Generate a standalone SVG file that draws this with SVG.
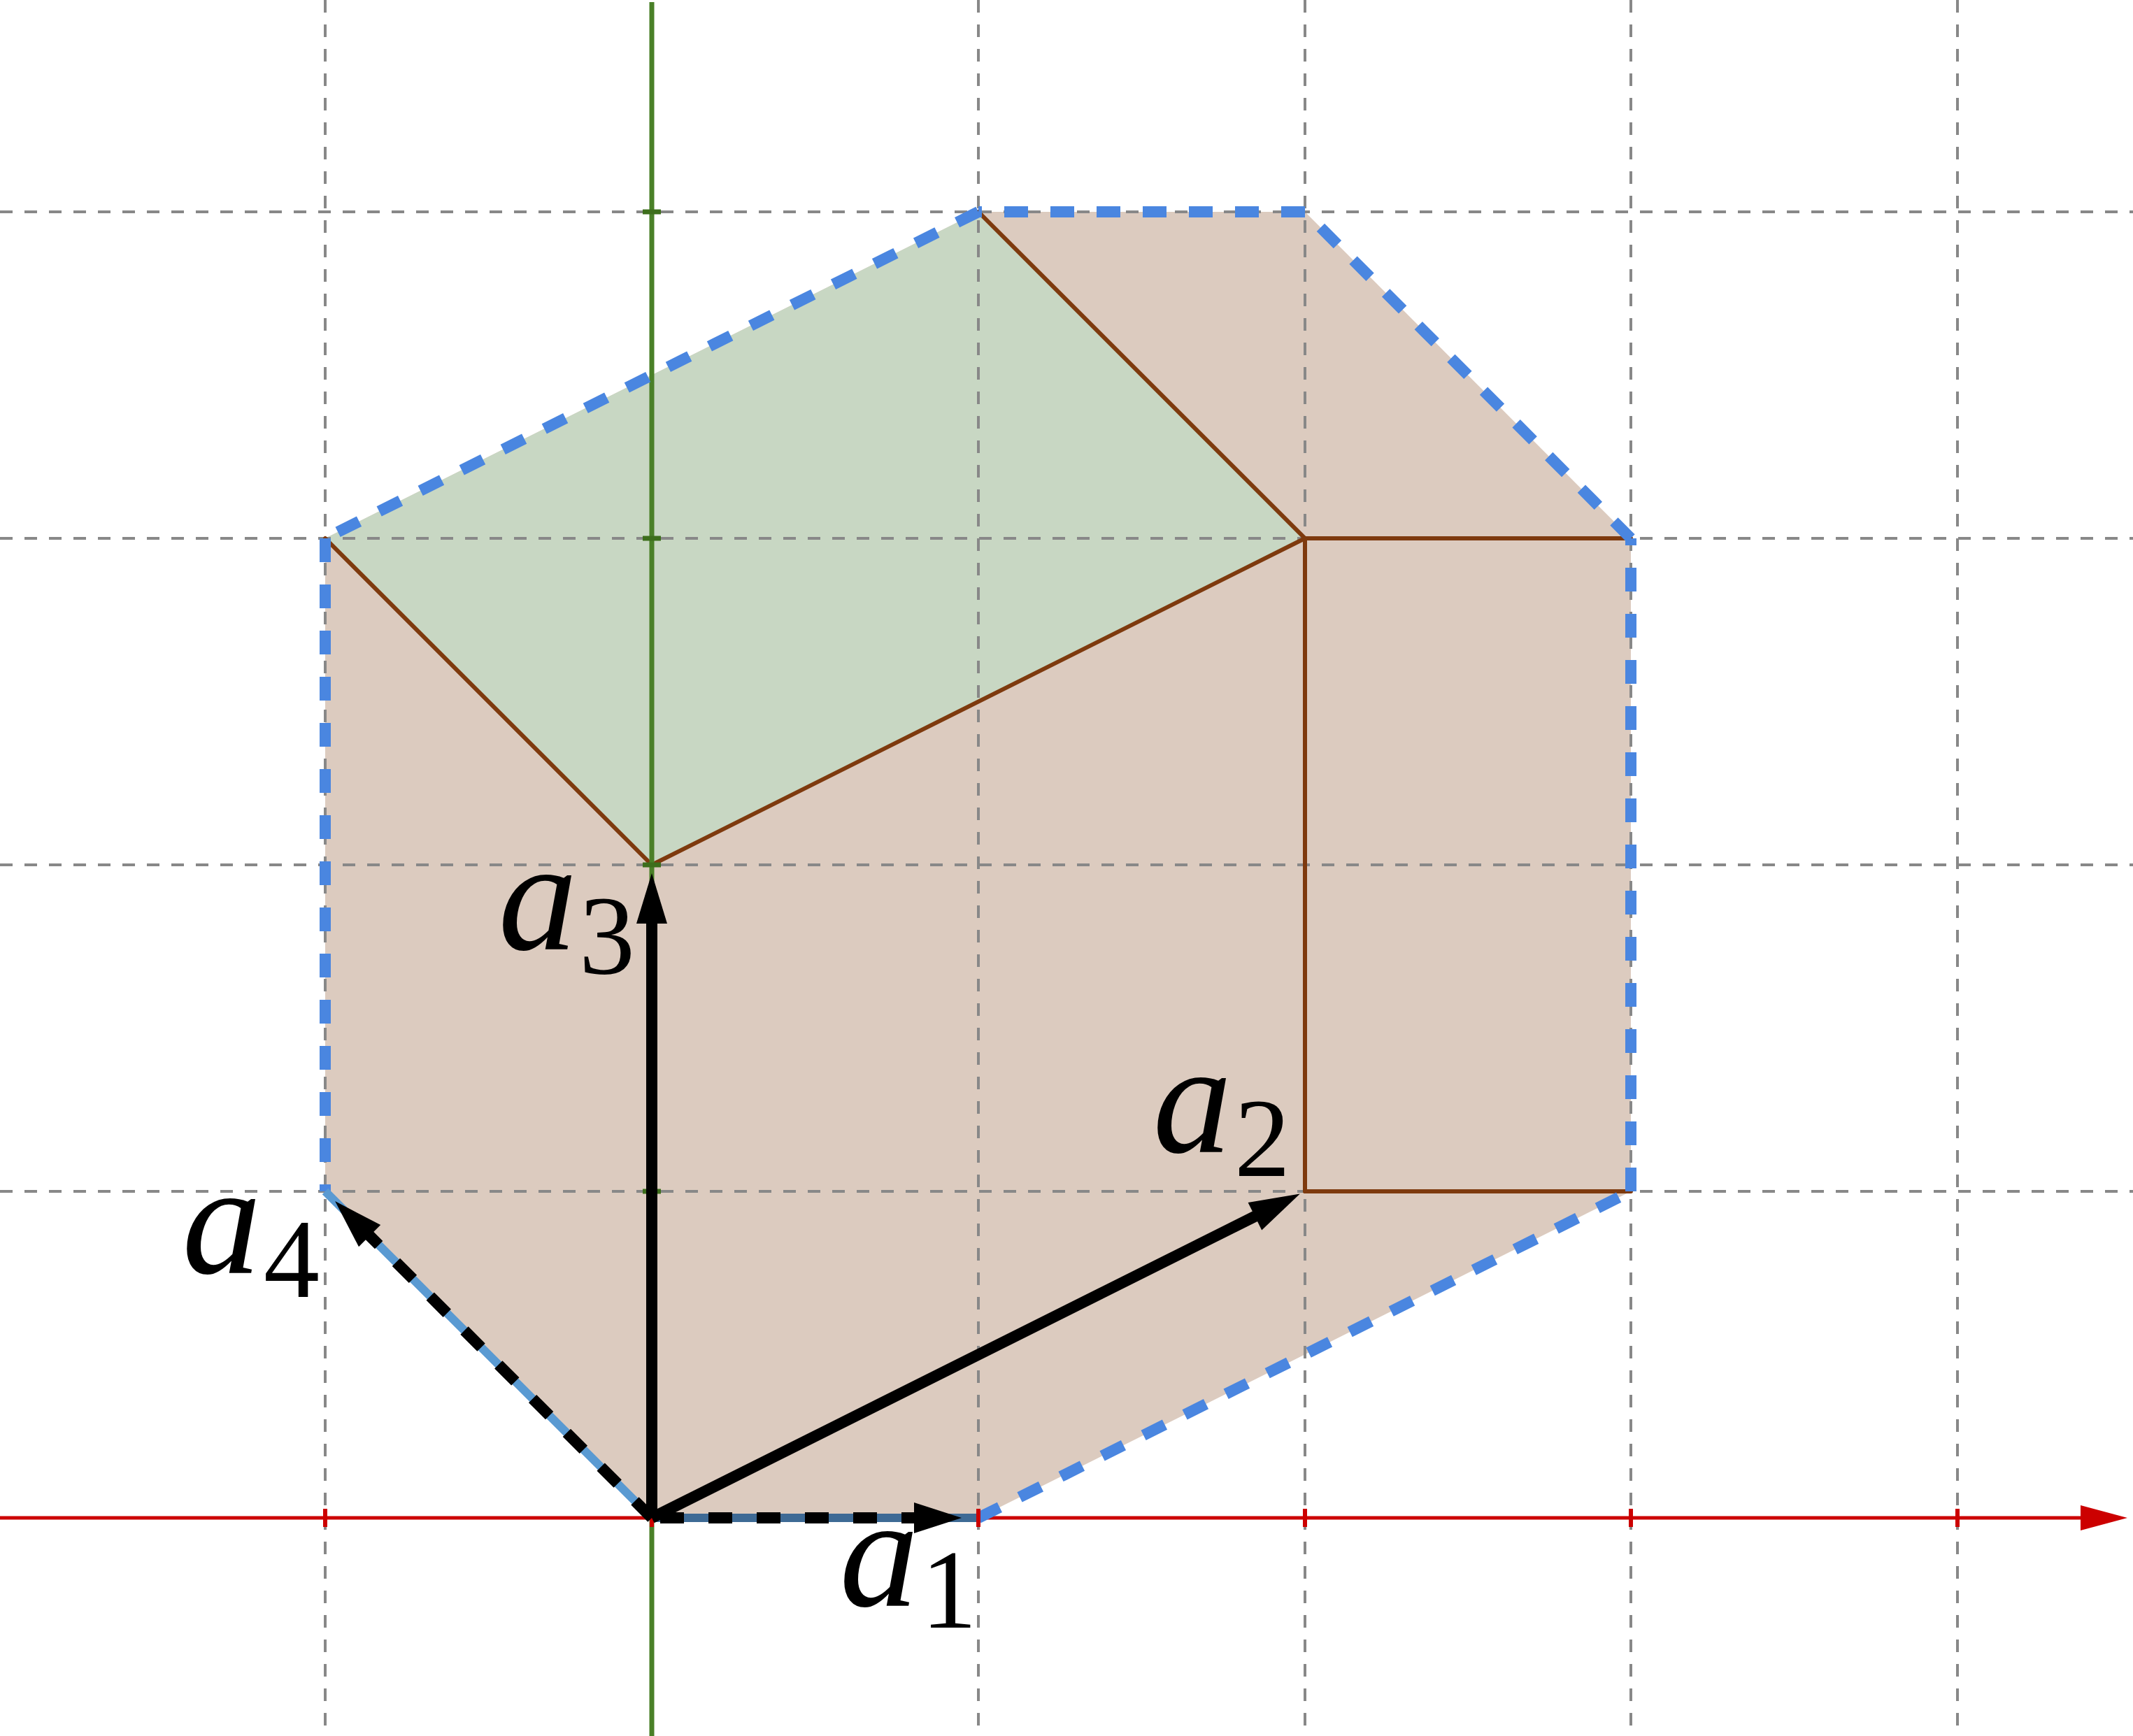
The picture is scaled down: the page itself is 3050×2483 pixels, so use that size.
<svg xmlns="http://www.w3.org/2000/svg" width="3050" height="2483" viewBox="0 0 3050 2483">
<style>
.grid{stroke:#888;stroke-width:4;stroke-dasharray:18 17;fill:none}
.edge{stroke:#7e3a0e;stroke-width:6;fill:none;stroke-linecap:round}
.bnd{stroke:#4a86e0;stroke-width:16;stroke-dasharray:34 32;fill:none}
.vec{stroke:#000;stroke-width:16;fill:none}
.vdash{stroke:#000;stroke-width:16;fill:none;stroke-dasharray:34 35}
.rtick{stroke:#cc0000;stroke-width:6}
.gtick{stroke:#3d6e1c;stroke-width:7}
.lbl{font-family:"Liberation Serif","DejaVu Serif",serif;fill:#000;text-anchor:middle}
.lv{font-style:italic;font-size:226px}
.ls{font-size:160px}
</style>
<rect width="3050" height="2483" fill="#ffffff"/>
<g id="regions">
<polygon points="932,2171 1399,2171 2332,1704 2332,770 1866,303 1399,303 465,770 465,1704" fill="#dccbbf"/>
<polygon points="932,1237 1866,770 1399,303 465,770" fill="#c8d7c3"/>
</g>
<g id="grid">
<line class="grid" x1="465" y1="0" x2="465" y2="2483"/>
<line class="grid" x1="1399" y1="0" x2="1399" y2="2483"/>
<line class="grid" x1="1866" y1="0" x2="1866" y2="2483"/>
<line class="grid" x1="2332" y1="0" x2="2332" y2="2483"/>
<line class="grid" x1="2799" y1="0" x2="2799" y2="2483"/>
<line class="grid" x1="0" y1="303" x2="3050" y2="303"/>
<line class="grid" x1="0" y1="770" x2="3050" y2="770"/>
<line class="grid" x1="0" y1="1237" x2="3050" y2="1237"/>
<line class="grid" x1="0" y1="1704" x2="3050" y2="1704"/>
</g>
<g id="edges">
<line class="edge" x1="465" y1="770" x2="932" y2="1237"/>
<line class="edge" x1="932" y1="1237" x2="1866" y2="770"/>
<line class="edge" x1="1866" y1="770" x2="1399" y2="303"/>
<line class="edge" x1="1866" y1="770" x2="2332" y2="770"/>
<line class="edge" x1="1866" y1="770" x2="1866" y2="1704"/>
<line class="edge" x1="1866" y1="1704" x2="2332" y2="1704"/>
</g>
<g id="axes">
<line x1="0" y1="2171" x2="2980" y2="2171" stroke="#cc0000" stroke-width="5"/>
<polygon points="2975,2153 3042,2171 2975,2189" fill="#cc0000"/>
<line x1="932" y1="3" x2="932" y2="2483" stroke="#4a8028" stroke-width="7"/>
</g>
<g id="connectors">
<line class="bnd" x1="1399" y1="2171" x2="2332" y2="1704"/>
<line class="bnd" x1="2332" y1="1704" x2="2332" y2="770"/>
<line class="bnd" x1="2332" y1="770" x2="1866" y2="303"/>
<line class="bnd" x1="1866" y1="303" x2="1399" y2="303"/>
<line class="bnd" x1="1399" y1="303" x2="465" y2="770"/>
<line class="bnd" x1="465" y1="770" x2="465" y2="1704"/>
<line x1="932" y1="2171" x2="1399" y2="2171" stroke="#3e6a95" stroke-width="12"/>
<line x1="932" y1="2171" x2="465" y2="1704" stroke="#5a9ad2" stroke-width="12"/>
</g>
<g id="ticks">
<line class="rtick" x1="465" y1="2158" x2="465" y2="2184"/>
<line class="rtick" x1="932" y1="2158" x2="932" y2="2184"/>
<line class="rtick" x1="1399" y1="2158" x2="1399" y2="2184"/>
<line class="rtick" x1="1866" y1="2158" x2="1866" y2="2184"/>
<line class="rtick" x1="2332" y1="2158" x2="2332" y2="2184"/>
<line class="rtick" x1="2799" y1="2158" x2="2799" y2="2184"/>
<line class="gtick" x1="919" y1="303" x2="945" y2="303"/>
<line class="gtick" x1="919" y1="770" x2="945" y2="770"/>
<line class="gtick" x1="919" y1="1237" x2="945" y2="1237"/>
<line class="gtick" x1="919" y1="1704" x2="945" y2="1704"/>
</g>
<g id="vector-a1">
<line class="vdash" x1="932" y1="2171" x2="1312" y2="2171" stroke-dashoffset="57"/>
<polygon points="1375,2171 1307,2149 1307,2193" fill="#000"/>
<text class="lbl lv" x="1257" y="2297">a</text>
<text class="lbl ls" x="1357" y="2328">1</text>
</g>
<g id="vector-a2">
<line class="vec" x1="932" y1="2171" x2="1800" y2="1737"/>
<polygon points="1858.8,1707.6 1804.2,1759.5 1784.6,1720.1" fill="#000"/>
<text class="lbl lv" x="1705" y="1648">a</text>
<text class="lbl ls" x="1805" y="1682">2</text>
</g>
<g id="vector-a3">
<line class="vec" x1="932" y1="2171" x2="932" y2="1315"/>
<polygon points="932,1249 910,1321 954,1321" fill="#000"/>
<text class="lbl lv" x="769" y="1358">a</text>
<text class="lbl ls" x="868" y="1392">3</text>
</g>
<g id="vector-a4">
<line class="vdash" x1="932" y1="2171" x2="526" y2="1765" stroke-width="14"/>
<polygon points="479.1,1718.1 544.2,1752 513,1783.2" fill="#000"/>
<text class="lbl lv" x="317" y="1821">a</text>
<text class="lbl ls" x="417" y="1855">4</text>
</g>
</svg>
